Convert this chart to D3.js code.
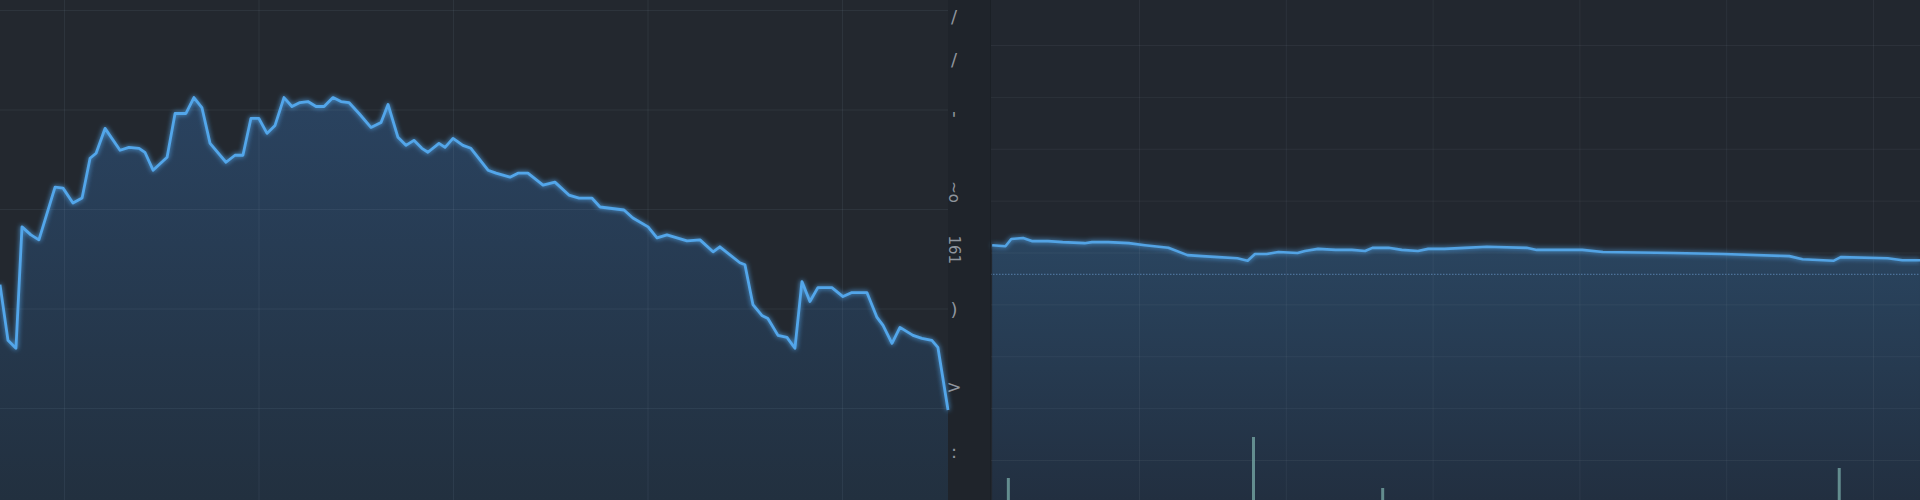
<!DOCTYPE html>
<html>
<head>
<meta charset="utf-8">
<script src="https://cdn.jsdelivr.net/npm/d3@7"></script>
<style>
  html, body { margin: 0; padding: 0; background: #20252c; }
  svg { display: block; }
</style>
</head>
<body>
<svg id="chart" width="1920" height="500"></svg>
<script>
// ---------- DATA ----------
// Left panel (intraday price) : time units and price values
const leftTime = [6.71,7.12,7.53,7.84,8.30,8.71,9.54,9.95,10.46,10.93,11.34,11.65,12.11,12.88,13.34,13.86,14.16,14.58,15.30,15.71,16.27,16.68,17.09,17.51,18.33,18.79,19.20,19.61,20.02,20.44,20.85,21.31,21.72,22.13,22.54,22.96,23.37,23.83,24.24,24.65,25.17,25.78,26.30,26.66,27.17,27.58,27.99,28.40,28.71,29.28,29.59,30.00,30.51,30.92,31.80,32.21,32.93,33.34,33.85,34.63,35.24,35.96,36.48,37.14,37.56,38.79,39.25,40.03,40.49,41.00,42.03,42.70,43.37,43.72,44.75,45.01,45.42,45.88,46.19,46.71,47.17,47.58,47.94,48.35,48.76,49.48,50.05,50.51,51.28,51.80,52.11,52.57,52.98,53.65,54.11,54.62,54.93,55.45];
const leftPrice = [112.4,106.8,106.0,118.2,117.4,116.9,122.2,122.1,120.6,121.1,125.1,125.6,128.1,125.9,126.2,126.1,125.7,123.9,125.2,129.6,129.6,131.2,130.2,126.6,124.7,125.4,125.4,129.1,129.1,127.6,128.4,131.2,130.3,130.7,130.8,130.3,130.3,131.2,130.8,130.7,129.6,128.2,128.7,130.5,127.2,126.4,126.9,126.1,125.7,126.6,126.2,127.1,126.4,126.1,123.9,123.6,123.2,123.6,123.6,122.4,122.7,121.4,121.1,121.1,120.2,119.9,119.1,118.2,117.1,117.4,116.8,116.9,115.7,116.2,114.6,114.4,110.4,109.3,109.0,107.3,107.1,106.0,112.7,110.7,112.1,112.1,111.2,111.6,111.6,109.1,108.3,106.5,108.1,107.3,107.0,106.8,106.1,99.8];
const leftTimeTicks = [10,20,30,40,50];
const leftPriceTicks = [100,110,120,130,140];
// garbled axis labels between the panels
const axisLabelText = ["/", "/", "'", "~o", "161", ")", ">", ":"];
const axisLabelValue = [139.3,135.0,129.1,121.7,115.9,109.9,102.2,95.6];

// Right panel (multi-day price)
const rightTime = [0.00,0.09,0.13,0.21,0.27,0.38,0.48,0.63,0.68,0.79,0.93,1.04,1.20,1.33,1.43,1.54,1.67,1.74,1.79,1.87,1.95,2.08,2.13,2.22,2.34,2.45,2.54,2.59,2.70,2.79,2.90,2.97,3.08,3.22,3.37,3.64,3.71,4.02,4.16,4.64,4.98,5.43,5.52,5.73,5.78,6.10,6.20,6.32];
const rightPrice = [51.4,51.2,52.6,52.8,52.2,52.2,52.0,51.8,52.0,52.0,51.8,51.4,50.9,49.5,49.3,49.1,48.9,48.4,49.7,49.7,50.1,49.9,50.3,50.7,50.5,50.5,50.3,50.9,50.9,50.5,50.3,50.7,50.7,50.9,51.1,50.9,50.5,50.5,50.1,49.9,49.7,49.3,48.7,48.4,49.1,48.9,48.5,48.5];
const rightTimeTicks = [1,2,3,4,5,6];
const rightPriceTicks = [10,20,30,40,50,60,70,80,90];
const prevClose = 45.8;
const volumeTime = [0.11,1.78,2.66,5.77];
const volumeValue = [220,630,120,320];

// ---------- DRAW ----------
const svg = d3.select("#chart");
const W = 1920, H = 500;
const defs = svg.append("defs");

const glow = defs.append("filter").attr("id","glow").attr("x","-5%").attr("y","-20%").attr("width","110%").attr("height","140%");
glow.append("feGaussianBlur").attr("in","SourceGraphic").attr("stdDeviation",2.6).attr("result","b");
const fm = glow.append("feMerge");
fm.append("feMergeNode").attr("in","b");
fm.append("feMergeNode").attr("in","SourceGraphic");

function grad(id, y1, y2, c1, c2) {
  const g = defs.append("linearGradient").attr("id", id)
    .attr("gradientUnits","userSpaceOnUse").attr("x1",0).attr("x2",0).attr("y1",y1).attr("y2",y2);
  g.append("stop").attr("offset",0).attr("stop-color",c1);
  g.append("stop").attr("offset",1).attr("stop-color",c2);
}
grad("gL", 95, 500, "#2a4360", "#22303f");
grad("gR", 238, 500, "#2a4560", "#222f40");

// background strip
svg.append("rect").attr("width",W).attr("height",H).attr("fill","#1f242b");

// ----- Left panel -----
const L = {x0:0, x1:948};
const xL = d3.scaleLinear().domain([10,50]).range([64,842]);
const yL = d3.scaleLinear().domain([100,140]).range([408,10]);
const gLeft = svg.append("g");
gLeft.append("rect").attr("x",L.x0).attr("y",0).attr("width",L.x1-L.x0).attr("height",H).attr("fill","#23282f");

const leftData = leftTime.map((t,i)=>({t, v:leftPrice[i]}));
gLeft.append("path").datum(leftData)
  .attr("fill","url(#gL)")
  .attr("d", d3.area().x(d=>xL(d.t)).y0(H).y1(d=>yL(d.v)));

// grid
gLeft.append("g").attr("transform",`translate(0,${H})`)
  .call(d3.axisBottom(xL).tickValues(leftTimeTicks).tickSize(-H).tickFormat(""))
  .call(g=>g.select(".domain").remove())
  .call(g=>g.selectAll("line").attr("stroke","rgba(160,175,195,0.09)"));
gLeft.append("g").attr("transform",`translate(${L.x0},0)`)
  .call(d3.axisLeft(yL).tickValues(leftPriceTicks).tickSize(-(L.x1-L.x0)).tickFormat(""))
  .call(g=>g.select(".domain").remove())
  .call(g=>g.selectAll("line").attr("stroke","rgba(160,175,195,0.09)"));

gLeft.append("path").datum(leftData)
  .attr("fill","none").attr("stroke","#52a6ea").attr("stroke-width",2.8)
  .attr("stroke-linejoin","round").attr("filter","url(#glow)")
  .attr("d", d3.line().x(d=>xL(d.t)).y(d=>yL(d.v)));

// axis labels (garbled glyphs)
svg.append("g").selectAll("text").data(axisLabelText).join("text")
  .attr("transform",(d,i)=>`translate(954,${yL(axisLabelValue[i])}) rotate(${d.length>1?90:0})`)
  .attr("text-anchor","middle").attr("dominant-baseline","central")
  .attr("font-family","DejaVu Sans").attr("font-size",(d)=>d.length>1?15:18)
  .attr("fill","#8f959d").text(d=>d);

// ----- Right panel -----
const R = {x0:990, x1:1920};
const xR = d3.scaleLinear().domain([1,6]).range([1139,1873]);
const yR = d3.scaleLinear().domain([10,90]).range([460,45]);
const vR = d3.scaleLinear().domain([0,1000]).range([0,100]);
const gRight = svg.append("g");
gRight.append("rect").attr("x",R.x0).attr("y",0).attr("width",R.x1-R.x0).attr("height",H).attr("fill","#22272f");
const rightData = rightTime.map((t,i)=>({t, v:rightPrice[i]}));
gRight.append("path").datum(rightData)
  .attr("fill","url(#gR)")
  .attr("d", d3.area().x(d=>xR(d.t)).y0(H).y1(d=>yR(d.v)));

gRight.append("g").attr("transform",`translate(0,${H})`)
  .call(d3.axisBottom(xR).tickValues(rightTimeTicks).tickSize(-H).tickFormat(""))
  .call(g=>g.select(".domain").remove())
  .call(g=>g.selectAll("line").attr("stroke","rgba(160,175,195,0.08)"));
gRight.append("g").attr("transform",`translate(${R.x0},0)`)
  .call(d3.axisLeft(yR).tickValues(rightPriceTicks).tickSize(-(R.x1-R.x0)).tickFormat(""))
  .call(g=>g.select(".domain").remove())
  .call(g=>g.selectAll("line").attr("stroke","rgba(160,175,195,0.08)"));

// previous close dotted line
gRight.append("line")
  .attr("x1",R.x0).attr("x2",R.x1).attr("y1",yR(prevClose)).attr("y2",yR(prevClose))
  .attr("stroke","#4d7299").attr("stroke-width",1.2).attr("stroke-dasharray","1.5,1.5");

// volume bars
gRight.append("g").selectAll("rect").data(volumeValue).join("rect")
  .attr("x",(d,i)=>xR(volumeTime[i])-1.5).attr("width",3)
  .attr("y",d=>H-vR(d)).attr("height",d=>vR(d))
  .attr("fill","#6e9d9c").attr("opacity",0.85);

gRight.append("path").datum(rightData)
  .attr("fill","none").attr("stroke","#52a3e4").attr("stroke-width",2.6)
  .attr("stroke-linejoin","round").attr("filter","url(#glow)")
  .attr("d", d3.line().x(d=>xR(d.t)).y(d=>yR(d.v)));

// right panel left border
gRight.append("line").attr("x1",R.x0+0.5).attr("x2",R.x0+0.5).attr("y1",0).attr("y2",H)
  .attr("stroke","#1b2026").attr("stroke-width",1);
</script>
</body>
</html>
